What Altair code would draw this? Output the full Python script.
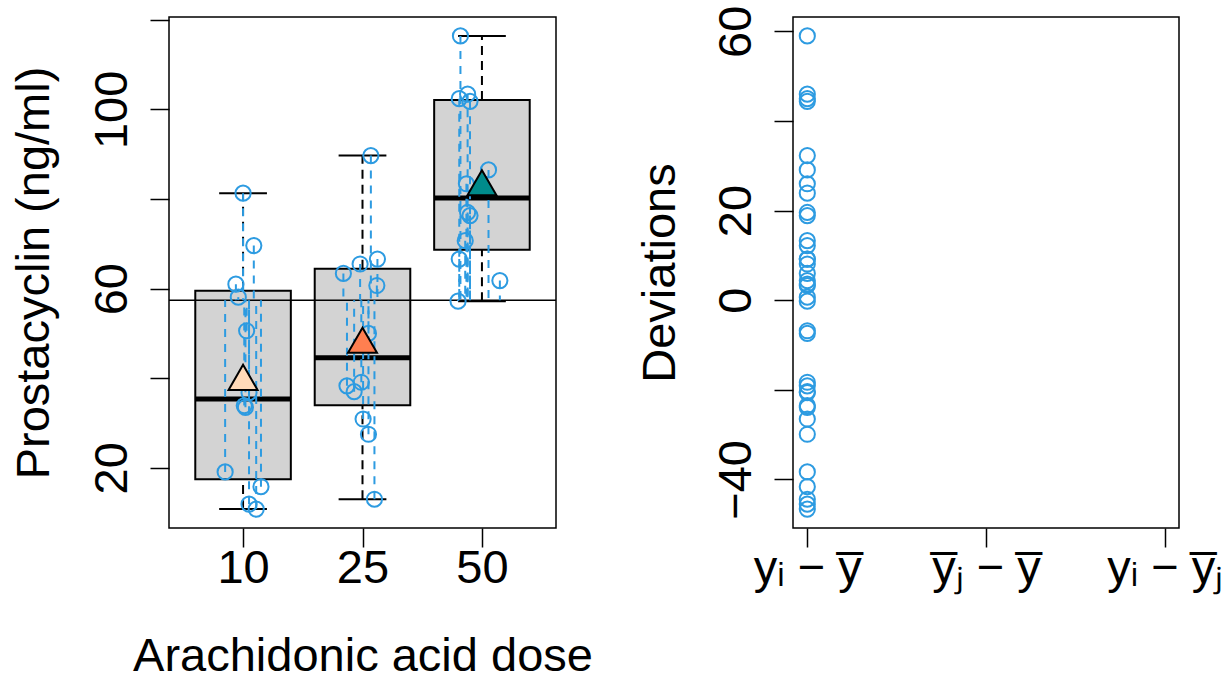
import altair as alt
import pandas as pd
import numpy as np

# ---------------- data ----------------
doses = ["10", "25", "50"]
values_10 = [81.3, 69.6, 61.0, 58.1, 50.6, 36.8, 33.9, 33.5, 19.1, 15.8, 11.9, 10.8]
jitter_10 = [0.0, 0.09, -0.06, -0.04, 0.03, 0.05, 0.01, 0.02, -0.15, 0.15, 0.05, 0.11]
values_25 = [89.7, 66.6, 65.5, 63.4, 60.7, 50.0, 39.1, 38.3, 37.0, 30.9, 27.5, 13.0]
jitter_25 = [0.07, 0.125, -0.02, -0.16, 0.12, 0.05, -0.01, -0.13, -0.07, 0.005, 0.05, 0.10]
values_50 = [116.4, 103.4, 102.4, 101.8, 86.5, 83.4, 77.0, 76.3, 70.7, 66.6, 61.8, 57.2]
jitter_50 = [-0.18, -0.12, -0.19, -0.10, 0.055, -0.13, -0.12, -0.10, -0.14, -0.19, 0.15, -0.20]
mean_colors = ["#FFDAB9", "#FF7F50", "#008B8B"]
dev_labels = ["yᵢ − y̅", "y̅ⱼ − y̅", "yᵢ − y̅ⱼ"]
left_ticks = [20, 40, 60, 80, 100, 120]
left_labels = [20, 60, 100]
right_ticks = [-40, -20, 0, 20, 40, 60]
right_labels = [60, 20, 0, -40]

# ---------------- derived tables ----------------
groups = [values_10, values_25, values_50]
jitters = [jitter_10, jitter_25, jitter_50]
rows = []
for g, (vals, jit) in enumerate(zip(groups, jitters), start=1):
    for v, j in zip(vals, jit):
        rows.append({"grp": g, "xj": g + j, "val": v})
pts = pd.DataFrame(rows)
gm = pts["val"].mean()
pts["gm"] = gm
pts["dev"] = pts["val"] - gm
pts["one"] = 1


def fivenum(a):
    a = np.sort(np.asarray(a, dtype=float))
    n = len(a)
    n4 = np.floor((n + 3) / 2) / 2
    d = np.array([1, n4, (n + 1) / 2, n + 1 - n4, n]) - 1
    return 0.5 * (a[np.floor(d).astype(int)] + a[np.ceil(d).astype(int)])


brow = []
for g, vals in enumerate(groups, start=1):
    f = fivenum(vals)
    iqr = f[3] - f[1]
    arr = np.asarray(vals)
    wmin = arr[arr >= f[1] - 1.5 * iqr].min()
    wmax = arr[arr <= f[3] + 1.5 * iqr].max()
    brow.append({"pos": g, "left": g - 0.4, "right": g + 0.4,
                 "capl": g - 0.2, "capr": g + 0.2,
                 "q1": f[1], "med": f[2], "q3": f[3],
                 "wmin": wmin, "wmax": wmax, "mean": float(np.mean(vals)),
                 "color": mean_colors[g - 1]})
box = pd.DataFrame(brow)
gmdf = pd.DataFrame({"gm": [gm]})


def ext(lo, hi):
    r = hi - lo
    return [lo - 0.04 * r, hi + 0.04 * r]


xdom_l = ext(0.5, len(doses) + 0.5)
ydom_l = ext(pts["val"].min(), pts["val"].max())
xdom_r = ext(1, 3)
ydom_r = ext(pts["dev"].min(), pts["dev"].max())

FONT = "Liberation Sans"
FS = 47
BLUE = "#2D9BE1"
PT_SIZE = 230
W_L, W_R, H = 387, 386, 511

xlab_expr = " : ".join(
    [f"datum.value == {i + 1} ? '{d}'" for i, d in enumerate(doses)]) + " : ''"
xaxis_l = alt.Axis(values=[1, 2, 3], labelExpr=xlab_expr, title="Arachidonic acid dose",
                   labelBaseline="alphabetic", labelPadding=35,
                   titleX=W_L / 2, titleY=142, titleBaseline="alphabetic", titleAlign="center")
yaxis_l = alt.Axis(values=left_ticks,
                   labelExpr=f"indexof({left_labels}, datum.value) >= 0 ? datum.label : ''",
                   title="Prostacyclin (ng/ml)", labelAngle=270, labelAlign="center",
                   labelBaseline="alphabetic", labelPadding=24,
                   titleX=-121, titleY=H / 2, titleAngle=270, titleBaseline="alphabetic",
                   titleAlign="center")
rlab_expr = " : ".join(
    [f"datum.value == {i + 1} ? '{d}'" for i, d in enumerate(dev_labels)]) + " : ''"
xaxis_r = alt.Axis(values=[1, 2, 3], labelExpr=rlab_expr, title=None,
                   labelBaseline="alphabetic", labelPadding=35)
yaxis_r = alt.Axis(values=right_ticks,
                   labelExpr=f"indexof({right_labels}, datum.value) >= 0 ? datum.label : ''",
                   title="Deviations", labelAngle=270, labelAlign="center",
                   labelBaseline="alphabetic", labelPadding=24,
                   titleX=-119, titleY=H / 2, titleAngle=270, titleBaseline="alphabetic",
                   titleAlign="center")

xs_l = alt.Scale(domain=xdom_l, nice=False, zero=False)
ys_l = alt.Scale(domain=ydom_l, nice=False, zero=False)


def XL(f):
    return alt.X(f, type="quantitative", scale=xs_l, axis=xaxis_l)


def YL(f):
    return alt.Y(f, type="quantitative", scale=ys_l, axis=yaxis_l)


bx = alt.Chart(box)
rect = bx.mark_rect(fill="#D3D3D3", stroke="black", strokeWidth=2).encode(
    x=XL("left"), x2="right", y=YL("q1"), y2="q3")
wlo = bx.mark_rule(color="black", strokeWidth=2, strokeDash=[9, 6]).encode(
    x=XL("pos"), y=YL("wmin"), y2="q1")
whi = bx.mark_rule(color="black", strokeWidth=2, strokeDash=[9, 6]).encode(
    x=XL("pos"), y=YL("q3"), y2="wmax")
caplo = bx.mark_rule(color="black", strokeWidth=2).encode(
    x=XL("capl"), x2="capr", y=YL("wmin"))
caphi = bx.mark_rule(color="black", strokeWidth=2).encode(
    x=XL("capl"), x2="capr", y=YL("wmax"))
med = bx.mark_rule(color="black", strokeWidth=5).encode(
    x=XL("left"), x2="right", y=YL("med"))
gline = alt.Chart(gmdf).mark_rule(color="black", strokeWidth=1.5).encode(y=YL("gm"))
p = alt.Chart(pts)
dash = p.mark_rule(color=BLUE, strokeWidth=2, strokeDash=[8, 7]).encode(
    x=XL("xj"), y=YL("val"), y2="gm")
circ = p.mark_point(shape="circle", filled=False, size=PT_SIZE, strokeWidth=2,
                    color=BLUE, opacity=1).encode(x=XL("xj"), y=YL("val"))
tri = bx.mark_point(shape="triangle-up", filled=True, size=841, stroke="black",
                    strokeWidth=2, opacity=1).encode(
    x=XL("pos"), y=YL("mean"), fill=alt.Fill("color:N", scale=None))

left = alt.layer(rect, wlo, whi, caplo, caphi, med, gline, dash, circ, tri).properties(
    width=W_L, height=H)

right = p.mark_point(shape="circle", filled=False, size=PT_SIZE, strokeWidth=2,
                     color=BLUE, opacity=1).encode(
    x=alt.X("one:Q", scale=alt.Scale(domain=xdom_r, nice=False, zero=False), axis=xaxis_r),
    y=alt.Y("dev:Q", scale=alt.Scale(domain=ydom_r, nice=False, zero=False), axis=yaxis_r),
).properties(width=W_R, height=H)

chart = alt.hconcat(left, right, spacing=237, bounds="flush").configure_view(
    stroke="black", strokeWidth=1.5
).configure_axis(
    domain=False, grid=False, ticks=True, tickColor="black", tickWidth=1.5, tickSize=19,
    labelFont=FONT, titleFont=FONT, labelFontSize=FS, titleFontSize=FS,
    labelColor="black", titleColor="black", titleFontWeight="normal",
    labelOverlap=False, labelFlush=False
).properties(
    padding={"left": 9, "top": 4, "right": 5, "bottom": 6}, background="white"
)

chart.save("out.html", embed_options={"renderer": "svg", "actions": False})
